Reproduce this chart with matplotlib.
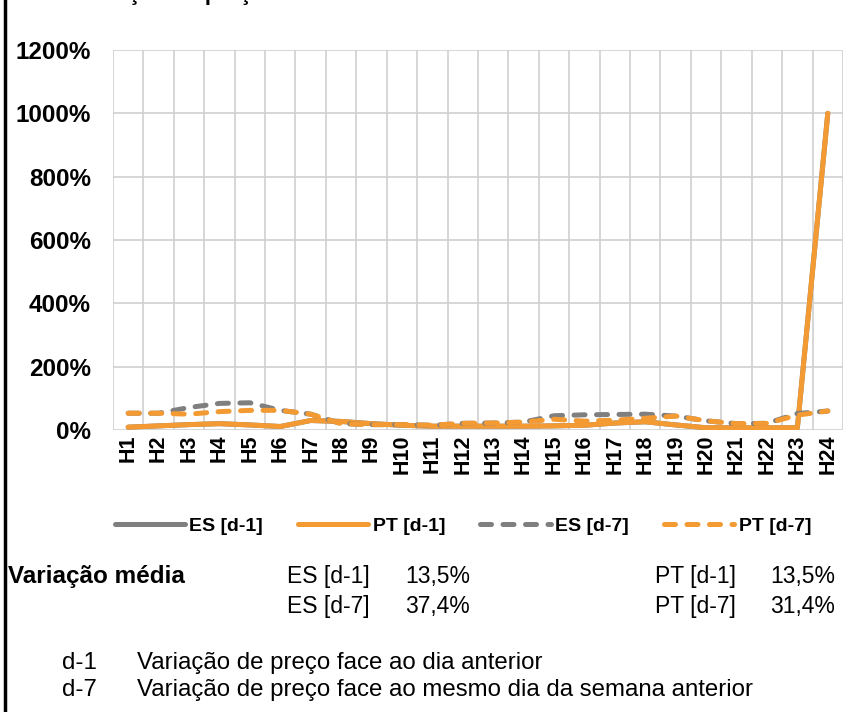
import matplotlib.pyplot as plt
from matplotlib.lines import Line2D
from matplotlib.ticker import FuncFormatter

plt.rcParams['font.family'] = ['Liberation Sans', 'DejaVu Sans']

# hours and price variations (%)
hours = ['H%d' % i for i in range(1, 25)]
es_d1 = [9, 13, 17, 20, 16, 11, 30, 27, 20, 15, 12, 12, 12, 12, 13, 15, 22, 26, 16, 7, 7, 7, 7, 1000]
pt_d1 = [9, 13, 17, 20, 16, 11, 30, 27, 20, 15, 12, 12, 12, 12, 13, 15, 22, 26, 16, 7, 7, 7, 7, 1000]
es_d7 = [53, 53, 71, 84, 86, 62, 50, 20, 17, 17, 15, 21, 22, 25, 45, 48, 49, 50, 44, 29, 20, 21, 52, 60]
pt_d7 = [53, 53, 50, 58, 62, 62, 50, 20, 17, 17, 15, 21, 22, 25, 34, 28, 31, 37, 44, 29, 20, 21, 47, 60]

series_names = ['ES [d-1]', 'PT [d-1]', 'ES [d-7]', 'PT [d-7]']
media_es = ['13,5%', '37,4%']
media_pt = ['13,5%', '31,4%']
notes = [('d-1', 'Variação de preço face ao dia anterior'),
         ('d-7', 'Variação de preço face ao mesmo dia da semana anterior')]

gray = '#7F7F7F'
orange = '#F39A33'

W, H = 854, 712
fig = plt.figure(figsize=(W / 100, H / 100), dpi=100)
ax = fig.add_axes([113 / W, 1 - 430 / H, 730 / W, 380 / H])

x = range(len(hours))
dash = (0, (2.2, 2.3))
ax.plot(x, es_d1, color=gray, lw=3.6, solid_capstyle='round', label=series_names[0])
ax.plot(x, pt_d1, color=orange, lw=3.6, solid_capstyle='round', label=series_names[1])
ax.plot(x, es_d7, color=gray, lw=3.6, ls=dash, dash_capstyle='round', label=series_names[2])
ax.plot(x, pt_d7, color=orange, lw=3.6, ls=dash, dash_capstyle='round', label=series_names[3])

ax.set_xlim(-0.5, len(hours) - 0.5)
ax.set_ylim(0, 1200)
ax.set_yticks(range(0, 1201, 200))
ax.yaxis.set_major_formatter(FuncFormatter(lambda v, p: '%d%%' % v))
ax.set_xticks(list(x))
ax.set_xticklabels(hours, rotation=90, fontsize=15.5, fontweight='bold')
ax.set_xticks([i - 0.5 for i in range(len(hours) + 1)], minor=True)
for lab in ax.get_yticklabels():
    lab.set_fontsize(17.5)
    lab.set_fontweight('bold')
ax.tick_params(axis='both', which='both', length=0)
ax.tick_params(axis='y', pad=16)
ax.tick_params(axis='x', pad=3)
ax.grid(True, axis='y', which='major', color='#D0D0D0', lw=1.2)
ax.grid(True, axis='x', which='minor', color='#D0D0D0', lw=1.2)
ax.set_axisbelow(True)
for s in ax.spines.values():
    s.set_visible(False)

leg = ax.legend(loc='center', bbox_to_anchor=(463 / W, 1 - 526 / H),
                bbox_transform=fig.transFigure, ncol=4, frameon=False,
                prop={'weight': 'bold', 'size': 14}, handlelength=3.6,
                handletextpad=0.25, columnspacing=1.8)

# cut-off title and left border
fig.text(75 / W, 1.0, 'Variação de preço', fontsize=16, fontweight='bold', va='baseline')
fig.add_artist(Line2D([5 / W, 5 / W], [0, 1], color='black', lw=2.5))

# average variation block
fig.text(8 / W, 1 - 577 / H, 'Variação média', fontsize=17.5, fontweight='bold', va='center')
for i, row_y in enumerate([577, 607]):
    fig.text(287 / W, 1 - row_y / H, series_names[2 * i], fontsize=16.5, va='center')
    fig.text(405 / W, 1 - row_y / H, media_es[i], fontsize=16.5, va='center')
    fig.text(655 / W, 1 - row_y / H, series_names[2 * i + 1], fontsize=16.5, va='center')
    fig.text(770 / W, 1 - row_y / H, media_pt[i], fontsize=16.5, va='center')

# footnotes
for (k, txt), row_y in zip(notes, [663, 690]):
    fig.text(62 / W, 1 - row_y / H, k, fontsize=17.3, va='center')
    fig.text(137 / W, 1 - row_y / H, txt, fontsize=17.3, va='center')

fig.savefig('out.png', dpi=100)
